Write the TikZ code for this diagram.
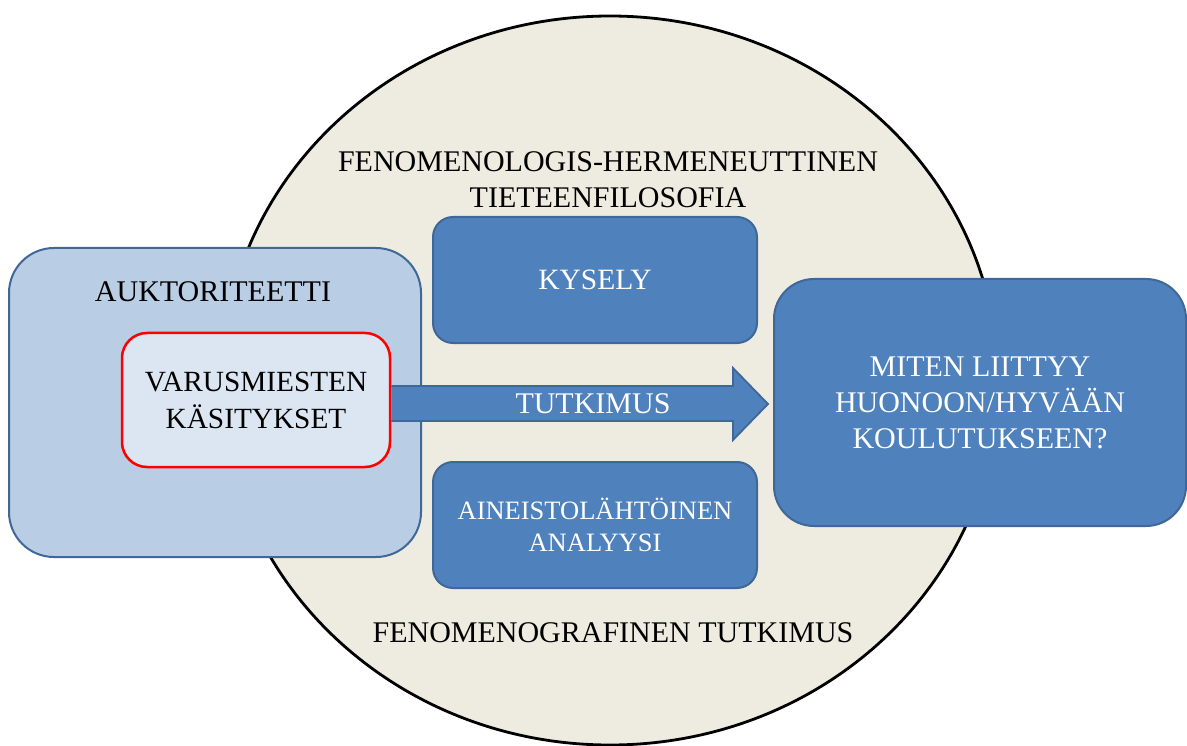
\documentclass[tikz,border=0pt]{standalone}
\usepackage{fontspec}
\setmainfont{Liberation Serif}
\begin{document}
\begin{tikzpicture}[x=1pt,y=-1pt]{
    \definecolor{paper}{HTML}{EEECE1}
    \definecolor{boxblue}{HTML}{4F81BD}
    \definecolor{boxline}{HTML}{3F6797}
    \definecolor{pale}{HTML}{B9CDE5}
    \definecolor{paler}{HTML}{DCE6F2}
    \tikzstyle{ell}=[draw=black, fill=paper, line width=2.8pt]
    \tikzstyle{title}=[align=center, font=\fontsize{30}{36}\selectfont]
    \tikzstyle{box}=[draw=boxline, fill=boxblue, line width=2pt, rounded corners=20pt, inner sep=0pt,
                     minimum width=324, minimum height=126, align=center, text=white, font=\fontsize{29.5}{35}\selectfont]
    \tikzstyle{outerbox}=[draw=boxline, fill=pale, line width=2pt, rounded corners=45pt, inner sep=0pt,
                          minimum width=412, minimum height=309]
    \tikzstyle{innerbox}=[draw=red, fill=paler, line width=2.5pt, rounded corners=25pt, inner sep=0pt,
                          minimum width=268, minimum height=134, align=center, font=\fontsize{29.3}{37}\selectfont]
    \tikzstyle{tut}=[draw=boxline, fill=boxblue, line width=1.8pt, line join=miter]

    \useasboundingbox (0,0) rectangle (1187,746);
    \draw[ell] (610,380.5) ellipse [x radius=388, y radius=364.5];

    \node[title] (fil) at (608,180) {FENOMENOLOGIS-HERMENEUTTINEN\\TIETEENFILOSOFIA};
    \node[title] (gra) at (613,633) {FENOMENOGRAFINEN TUTKIMUS};

    \node[outerbox] (auk) at (215,402.5) {};
    \node[title] (aukt) at (213,292) {AUKTORITEETTI};
    \node[innerbox] (vm) at (256,400) {VARUSMIESTEN\\KÄSITYKSET};

    \node[box] (kys) at (595,280) {KYSELY};
    \node[box, font=\fontsize{26.5}{32}\selectfont] (ana) at (595,525) {AINEISTOLÄHTÖINEN\\ANALYYSI};
    \node[box, rounded corners=40pt, minimum width=412, minimum height=247, font=\fontsize{30}{36}\selectfont]
        (res) at (980,402.5) {MITEN LIITTYY\\HUONOON/HYVÄÄN\\KOULUTUKSEEN?};

    \filldraw[tut] (vm.east |- 0,386) -- (733,386) -- (733,368) -- (768,404)
                   -- (733,440) -- (733,421) -- (vm.east |- 0,421);
    \node[title, text=white] (tutk) at (593,404) {TUTKIMUS};}
\end{tikzpicture}
\end{document}
